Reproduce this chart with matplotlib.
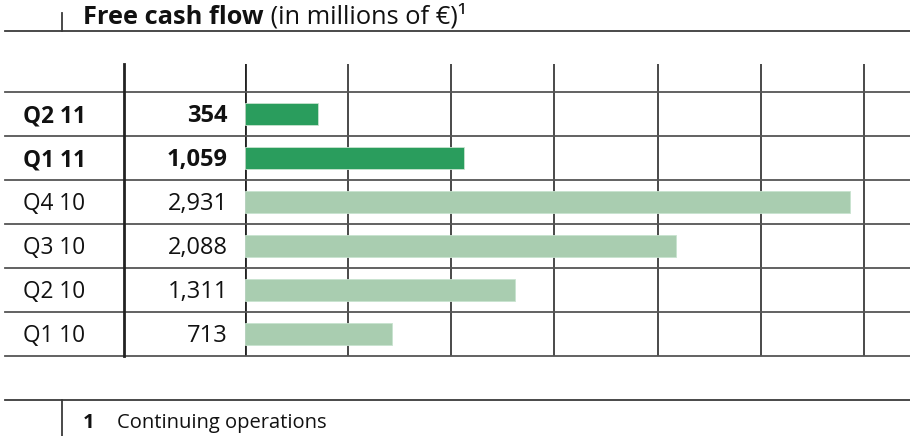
import matplotlib
matplotlib.use("Agg")
import matplotlib.pyplot as plt
from matplotlib.lines import Line2D
from matplotlib.transforms import blended_transform_factory

# ================= DATA ================= #
quarters = ["Q2 11", "Q1 11", "Q4 10", "Q3 10", "Q2 10", "Q1 10"]
values = [354, 1059, 2931, 2088, 1311, 713]
value_labels = ["354", "1,059", "2,931", "2,088", "1,311", "713"]
current_year = [True, True, False, False, False, False]
grid_ticks = [0, 500, 1000, 1500, 2000, 2500, 3000]

# ================= STYLE ================= #
plt.rcParams["font.family"] = ["Open Sans", "DejaVu Sans"]
DARK = "#2a9d5d"
LIGHT = "#a9cdb0"
LINE = "#3a3a3a"
FS = 16.3

W, H = 910, 436
def fx(px):
    return px / W
def fy(py):
    return 1 - py / H

fig = plt.figure(figsize=(W / 100, H / 100), dpi=100)
fig.patch.set_facecolor("white")

# bar area: x 245..910 px, y 64..356 px
ax = fig.add_axes([fx(245), fy(356), fx(910) - fx(245), (356 - 64) / H])
ax.set_xlim(0, 3223)
header = 28 / 44
ax.set_ylim(5.5, -0.5 - header)
ax.axis("off")

colors = [DARK if c else LIGHT for c in current_year]
ax.barh(range(len(values)), values, height=0.5, color=colors,
        edgecolor="#c8e3cf", linewidth=0.6, zorder=3)

# vertical grid lines
for t in grid_ticks:
    ax.axvline(t, color="#222222" if t == 0 else LINE,
               lw=2.0 if t == 0 else 1.3, zorder=2)

# horizontal row separators across the whole table
left_frac = (5 - 245) / (910 - 245)
for k in range(len(values) + 1):
    ax.axhline(k - 0.5, xmin=left_frac, xmax=1, color="#555555",
               lw=1.3, clip_on=False, zorder=2)

# column separator between labels and values
fig.add_artist(Line2D([fx(124), fx(124)], [fy(64), fy(356)],
                      color="#222222", lw=2.0))

# row texts (nudged a bit down to sit like the original)
trans = blended_transform_factory(fig.transFigure, ax.transData)
for i, (q, v, bold) in enumerate(zip(quarters, value_labels, current_year)):
    w = "bold" if bold else "normal"
    ax.text(fx(23), i + 0.05, q, ha="left", va="center", fontsize=FS,
            fontweight=w, color="#111111", transform=trans)
    ax.text(fx(228), i + 0.05, v, ha="right", va="center", fontsize=FS + 0.7,
            fontweight=w, color="#111111", transform=trans)

# ================= TITLE ================= #
fig.add_artist(Line2D([fx(5), fx(910)], [fy(31), fy(31)], color=LINE, lw=1.3))
fig.add_artist(Line2D([fx(62), fx(62)], [fy(13), fy(31)], color=LINE, lw=1.3))
t1 = fig.text(fx(83), fy(24), "Free cash flow", fontsize=18.3,
              fontweight="bold", ha="left", va="baseline", color="#111111")
fig.canvas.draw()
bb = t1.get_window_extent(renderer=fig.canvas.get_renderer())
fig.text(bb.x1 / W, fy(24), " (in millions of €)¹", fontsize=18.3,
         ha="left", va="baseline", color="#111111")

# ================= FOOTNOTE ================= #
fig.add_artist(Line2D([fx(5), fx(910)], [fy(400), fy(400)], color=LINE, lw=1.3))
fig.add_artist(Line2D([fx(62), fx(62)], [fy(400), fy(436)], color=LINE, lw=1.3))
fig.text(fx(83), fy(428), "1", fontsize=14.5, fontweight="bold",
         ha="left", va="baseline", color="#111111")
fig.text(fx(117), fy(428), "Continuing operations", fontsize=14.5,
         ha="left", va="baseline", color="#111111")

fig.savefig("out.png", dpi=100, facecolor="white")
